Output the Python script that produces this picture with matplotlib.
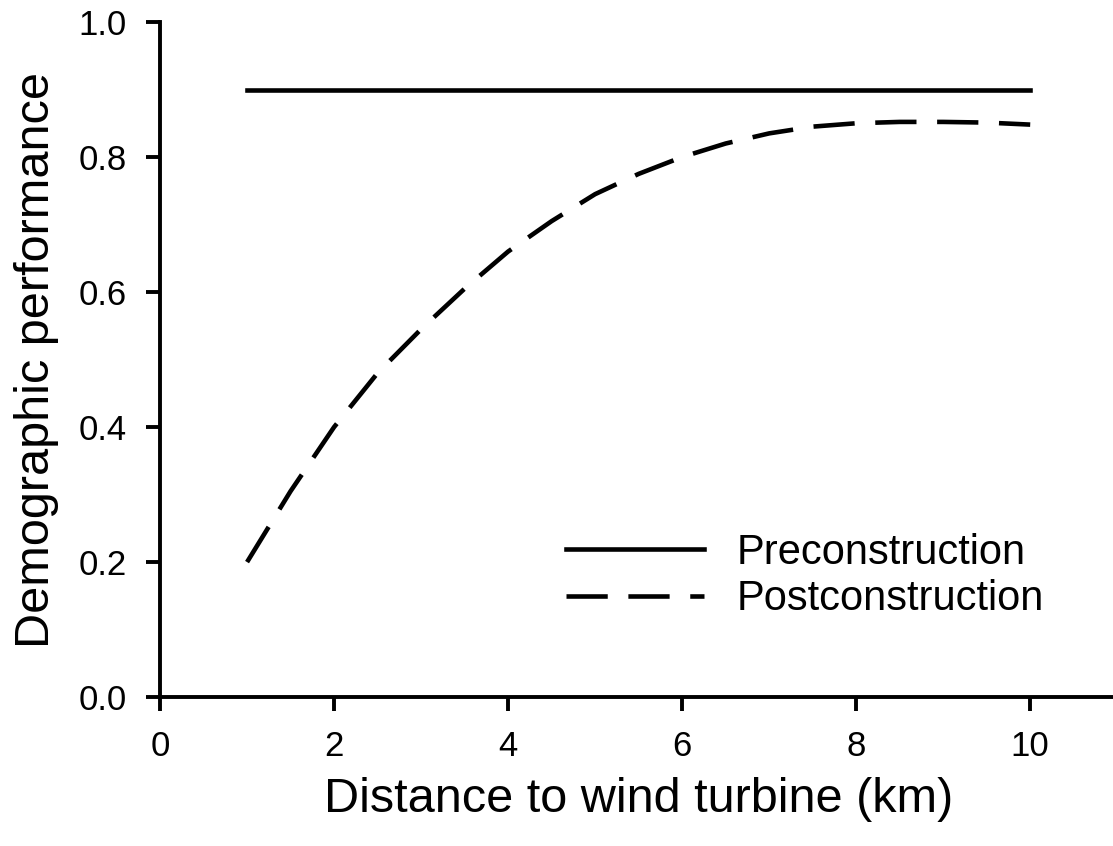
import numpy as np
import matplotlib.pyplot as plt

plt.rcParams['font.family'] = ['Liberation Sans', 'DejaVu Sans']

distance = [1, 1.5, 2, 2.5, 3, 3.5, 4, 4.5, 5, 5.5, 6, 6.5, 7, 7.5, 8, 8.5, 9, 9.5, 10]
post = [0.20, 0.305, 0.40, 0.48, 0.545, 0.605, 0.66, 0.705, 0.745, 0.775, 0.80, 0.82, 0.835, 0.845, 0.85, 0.852, 0.852, 0.851, 0.848]
pre_x = [1, 10]
pre = [0.9, 0.9]

fig = plt.figure(figsize=(11.13, 8.46), dpi=100)
ax = fig.add_axes([0.1438, 0.176, 0.86, 0.798])
ax.plot(pre_x, pre, color='black', lw=3.3, label='Preconstruction')
ax.plot(distance, post, color='black', lw=3.3, dashes=(9, 4.5), label='Postconstruction')
ax.set_xlim(0, 11)
ax.set_ylim(0, 1.0)
ax.set_xticks([0, 2, 4, 6, 8, 10])
ax.set_yticks([0.0, 0.2, 0.4, 0.6, 0.8, 1.0])
ax.set_yticklabels(['0.0', '0.2', '0.4', '0.6', '0.8', '1.0'])
ax.spines['top'].set_visible(False)
ax.spines['right'].set_visible(False)
ax.spines['left'].set_linewidth(2.8)
ax.spines['bottom'].set_linewidth(2.8)
ax.tick_params(labelsize=25, width=2.8, length=10, pad=14)
ax.set_xlabel('Distance to wind turbine (km)', fontsize=35, labelpad=10)
ax.set_ylabel('Demographic performance', fontsize=35, labelpad=14)
ax.legend(loc='lower right', bbox_to_anchor=(0.963, 0.06), frameon=False, fontsize=30,
          handlelength=3.3, handletextpad=0.8, labelspacing=0.15)
fig.savefig('out.png')
